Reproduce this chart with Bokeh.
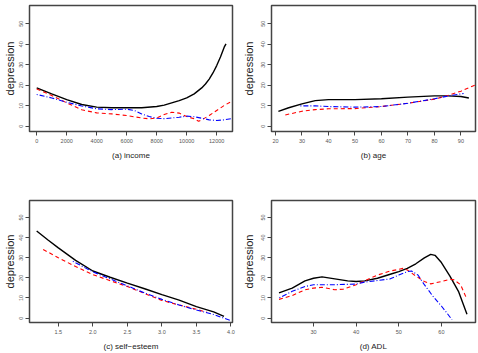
from bokeh.plotting import figure
from bokeh.layouts import column, row
from bokeh.models import Range1d, FixedTicker, NumeralTickFormatter
from bokeh.embed import file_html
from bokeh.resources import INLINE

# ---------------- data ----------------
# (a) income
inc_black_x = [0, 1000, 2000, 3000, 4000, 5000, 6000, 7000, 8000, 8500, 9000, 9500, 10000, 10500, 11000, 11250, 11500, 11750, 12000, 12250, 12500, 12620]
inc_black_y = [18.7, 15.8, 13.0, 10.6, 9.3, 9.0, 9.0, 9.0, 9.6, 10.3, 11.4, 12.5, 13.8, 15.8, 18.7, 20.6, 23.0, 26.0, 29.6, 33.8, 38.6, 40.2]
inc_red_x = [0, 1000, 2000, 3000, 4000, 5000, 6000, 7000, 7500, 8000, 8500, 9000, 9500, 10000, 10500, 10800, 11000, 11500, 12000, 12500, 13000]
inc_red_y = [18.2, 15.0, 11.4, 8.0, 6.5, 6.0, 5.2, 4.0, 3.6, 4.0, 5.7, 6.8, 6.4, 4.7, 3.6, 2.4, 3.1, 5.2, 7.7, 10.1, 12.2]
inc_blue_x = [0, 1000, 2000, 3000, 4000, 5000, 6000, 6500, 7000, 7500, 8000, 8500, 9000, 9500, 10000, 10500, 11000, 11500, 12000, 12500, 13000]
inc_blue_y = [15.5, 13.8, 11.7, 9.9, 8.5, 8.1, 8.3, 7.7, 6.0, 4.7, 3.9, 3.7, 4.0, 4.4, 4.9, 4.6, 3.9, 3.1, 2.8, 3.1, 3.7]

# (b) age
age_black_x = [21.1, 25, 30, 35, 40, 50, 60, 70, 80, 85, 90, 93]
age_black_y = [7.2, 9.0, 10.9, 12.5, 13.0, 13.0, 13.4, 14.2, 14.8, 14.8, 14.5, 13.8]
age_red_x = [23.7, 30, 35, 40, 50, 60, 70, 80, 85, 90, 95.5]
age_red_y = [5.5, 7.3, 8.1, 8.5, 8.6, 9.6, 11.2, 13.2, 15.0, 17.1, 20.2]
age_blue_x = [29.4, 35, 40, 50, 60, 70, 80, 85, 90, 91]
age_blue_y = [9.9, 9.9, 9.6, 9.3, 9.6, 11.2, 13.4, 14.7, 15.8, 16.0]

# (c) self-esteem
se_black_x = [1.186, 1.35, 1.5, 1.75, 2.0, 2.25, 2.5, 2.75, 3.0, 3.25, 3.5, 3.75, 3.9]
se_black_y = [43.3, 38.8, 34.9, 28.7, 23.4, 20.3, 17.4, 14.6, 11.7, 8.9, 5.7, 3.1, 0.8]
se_red_x = [1.28, 1.5, 1.75, 2.0, 2.25, 2.5, 2.75, 3.0, 3.25, 3.5, 3.65]
se_red_y = [34.1, 30.0, 25.6, 21.6, 18.6, 15.7, 12.2, 8.8, 6.5, 4.4, 2.9]
se_blue_x = [1.71, 2.0, 2.25, 2.5, 2.75, 3.0, 3.25, 3.5, 3.75, 4.0]
se_blue_y = [28.2, 23.0, 19.5, 16.0, 12.5, 9.3, 6.5, 4.0, 1.8, -1.3]

# (d) ADL
adl_black_x = [21.9, 25, 28, 30, 32, 35, 38, 40, 42, 45, 48, 50, 52, 54, 56, 57.5, 58.5, 60, 62, 64, 66]
adl_black_y = [12.5, 14.9, 18.5, 19.8, 20.5, 19.5, 18.5, 18.2, 18.5, 19.8, 21.8, 23.1, 24.7, 27.0, 29.9, 31.7, 31.2, 27.6, 20.9, 13.3, 1.9]
adl_red_x = [21.9, 25, 28, 30, 32, 35, 37, 40, 42, 45, 48, 50, 51, 52, 54, 56, 57.5, 60, 62, 63, 64.5, 66]
adl_red_y = [9.3, 11.2, 14.1, 14.9, 15.3, 14.1, 14.4, 16.6, 18.5, 21.4, 23.4, 24.2, 24.7, 23.9, 20.9, 18.2, 17.0, 18.2, 19.3, 19.0, 16.6, 9.3]
adl_blue_x = [22, 25, 28, 30, 35, 40, 42, 45, 48, 50, 52, 53, 54.5, 56, 58, 60, 62.5]
adl_blue_y = [10.1, 13.3, 15.7, 16.6, 16.6, 16.9, 17.9, 18.7, 19.5, 21.4, 23.1, 23.4, 21.4, 16.6, 10.9, 6.0, -0.8]

y_ticks = [0, 10, 20, 30, 40, 50]
inc_ticks = [0, 2000, 4000, 6000, 8000, 10000, 12000]
age_ticks = [20, 30, 40, 50, 60, 70, 80, 90]
se_ticks = [1.5, 2.0, 2.5, 3.0, 3.5, 4.0]
adl_ticks = [30, 40, 50, 60]

y_label = "depression"
x_labels = ["(a) income", "(b) age", "(c) self\u2212esteem", "(d) ADL"]

FONT = "Liberation Sans"


def panel(width, height, xr, yr, xticks, xlabel, series, bl, br, bt, bb, ylab_standoff, fmt=None):
    p = figure(width=width, height=height, output_backend="svg", toolbar_location=None,
               x_range=Range1d(*xr), y_range=Range1d(*yr),
               min_border_left=bl, min_border_right=br, min_border_top=bt, min_border_bottom=bb)
    p.background_fill_color = "white"
    p.border_fill_color = "white"
    p.outline_line_color = "#444444"
    p.outline_line_width = 1.5
    p.xgrid.grid_line_color = None
    p.ygrid.grid_line_color = None
    for ax in (p.xaxis[0], p.yaxis[0]):
        ax.axis_line_color = None
        ax.major_tick_line_color = "#444444"
        ax.major_tick_out = 4
        ax.major_tick_in = 0
        ax.minor_tick_line_color = None
        ax.major_label_text_font = FONT
        ax.major_label_text_font_size = "5.5px"
        ax.major_label_text_color = "#555555"
        ax.axis_label_text_font_style = "normal"
        ax.axis_label_text_color = "#222222"
    xa = p.xaxis[0]
    xa.ticker = FixedTicker(ticks=xticks)
    xa.major_label_standoff = 3
    xa.axis_label = xlabel
    xa.axis_label_text_font = FONT
    xa.axis_label_text_font_size = "8px"
    xa.axis_label_standoff = 5
    if fmt is not None:
        xa.formatter = fmt
    ya = p.yaxis[0]
    ya.ticker = FixedTicker(ticks=y_ticks)
    ya.major_label_orientation = "parallel"
    ya.major_label_standoff = 2
    ya.axis_label = y_label
    ya.axis_label_text_font = FONT
    ya.axis_label_text_font_size = "11px"
    ya.axis_label_standoff = ylab_standoff
    (bx, by), (rx, ry), (ux, uy) = series
    p.line(bx, by, line_color="black", line_width=1.4)
    p.line(rx, ry, line_color="red", line_width=1.1, line_dash="4 3")
    p.line(ux, uy, line_color="blue", line_width=1.1, line_dash="1 2 5 2")
    return p


pa = panel(239, 176, (-480, 13053), (-2.59, 58.94), inc_ticks, x_labels[0],
           [(inc_black_x, inc_black_y), (inc_red_x, inc_red_y), (inc_blue_x, inc_blue_y)],
           26, 7, 5, 45, 1)
pb = panel(239, 176, (18.5, 95.5), (-2.59, 58.94), age_ticks, x_labels[1],
           [(age_black_x, age_black_y), (age_red_x, age_red_y), (age_blue_x, age_blue_y)],
           30, 3, 5, 45, 4)
pc = panel(239, 177, (1.082, 4.023), (-2.19, 58.45), se_ticks, x_labels[2],
           [(se_black_x, se_black_y), (se_red_x, se_red_y), (se_blue_x, se_blue_y)],
           26, 7, 24, 29, 1, fmt=NumeralTickFormatter(format="0.0"))
pd = panel(239, 177, (20.14, 68.0), (-2.19, 58.45), adl_ticks, x_labels[3],
           [(adl_black_x, adl_black_y), (adl_red_x, adl_red_y), (adl_blue_x, adl_blue_y)],
           30, 3, 24, 29, 4)

layout = column(row(pa, pb), row(pc, pd))

with open("out.html", "w") as f:
    f.write(file_html(layout, INLINE))
